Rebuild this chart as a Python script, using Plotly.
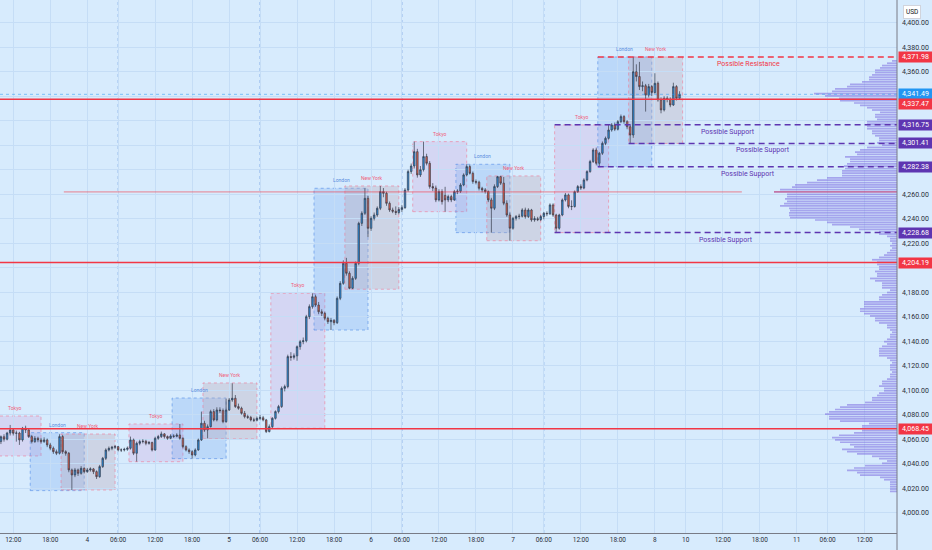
import plotly.graph_objects as go

# 30-minute bars; index 0 is the 12:00 bar of the 3rd
bar_idx = list(range(-4, 217))

opens = [
    4058, 4062, 4060, 4065, 4067.5, 4064.8, 4065, 4059.4, 4068.9, 4067.5,
    4062.1, 4058, 4060.7, 4059.4, 4058, 4059.4, 4055.3, 4052.6, 4049.8, 4048.5,
    4062.1, 4049.8, 4048.5, 4034.9, 4030.8, 4034.9, 4032.1, 4036.2, 4033.5, 4034.9,
    4035.7, 4033.5, 4029.4, 4037.6, 4044.4, 4051.2, 4052.5, 4053.4, 4053.9, 4051.2,
    4051.2, 4051.7, 4052.6, 4059.4, 4048.5, 4056.6, 4058, 4058.3, 4056.6, 4057.2,
    4051.2, 4060.7, 4062.1, 4064.3, 4062.1, 4060.7, 4062.6, 4062.3, 4063.4, 4060.7,
    4053.9, 4051.2, 4049.8, 4047.1, 4051.2, 4059.4, 4073, 4067.5, 4070.2, 4082.5,
    4075.7, 4083.8, 4083.3, 4074.3, 4083.8, 4092, 4093.4, 4086.6, 4085.2, 4081.1,
    4078.4, 4077.8, 4075.7, 4075.5, 4077, 4077.5, 4075.7, 4066.2, 4070.2, 4077,
    4082.5, 4086.6, 4101.5, 4102.9, 4127.4, 4126.8, 4128, 4135.5, 4139.6, 4140.3,
    4160, 4168.2, 4176.3, 4169.5, 4164, 4162.7, 4158.7, 4155.9, 4157, 4155.1,
    4175, 4187.2, 4203.6, 4195.4, 4183.2, 4191.3, 4203.6, 4236.2, 4244.4, 4256.6,
    4232.1, 4240.3, 4243, 4248.5, 4262.1, 4260.7, 4252.5, 4247.1, 4246, 4245,
    4247.5, 4249, 4263.4, 4278.4, 4283, 4294.7, 4275.7, 4280, 4290.7, 4285.2,
    4266.2, 4265, 4255.3, 4262.1, 4259, 4255.3, 4258, 4255.3, 4262.1, 4262.4,
    4267.5, 4275.7, 4282.5, 4277, 4270.3, 4269.8, 4264.8, 4263.5, 4262.1, 4255.3,
    4248.5, 4266.2, 4274.3, 4269, 4252.6, 4243, 4232.2, 4240.3, 4241.7, 4242,
    4247.1, 4241.7, 4247.1, 4239, 4240, 4239.2, 4241.7, 4244.4, 4244, 4251.2,
    4243, 4232.2, 4243, 4255.3, 4259.4, 4250, 4249.9, 4262, 4266.2, 4265,
    4271.6, 4278.4, 4286.6, 4296.1, 4285.2, 4293.4, 4301.5, 4305.6, 4312.4, 4316.5,
    4313, 4319.2, 4323.3, 4319.2, 4315, 4308.3, 4360, 4356, 4347.8, 4348.5,
    4341, 4347.8, 4343, 4350.5, 4337, 4328.8, 4338.3, 4337.5, 4332.8, 4347.8,
    4338.3]

highs = [
    4063, 4064, 4066, 4071.6, 4069, 4067, 4066, 4070, 4071, 4068.5,
    4063.5, 4062.5, 4062, 4061, 4061.5, 4060.5, 4057, 4054, 4051.5, 4064,
    4063.5, 4051, 4049.5, 4036, 4036.5, 4036, 4038, 4037, 4036.5, 4037,
    4036.5, 4034.5, 4039, 4045.5, 4052.5, 4054, 4054.5, 4055.3, 4054.5, 4052.5,
    4053, 4054, 4062.1, 4060.5, 4058, 4059.5, 4060, 4059.5, 4058.5, 4058,
    4062, 4063.5, 4066.2, 4065, 4063, 4064, 4064, 4064.8, 4072.4, 4061.5,
    4055, 4052.5, 4051, 4052.5, 4060.5, 4082.5, 4075, 4072, 4084, 4084.5,
    4086, 4086, 4085, 4093, 4093.6, 4105.6, 4096, 4089, 4086.5, 4083,
    4080, 4079, 4077.5, 4078.5, 4079.8, 4079, 4076.5, 4072, 4078, 4083.5,
    4088, 4103, 4104.5, 4129, 4131, 4130, 4136.5, 4141, 4143, 4161.5,
    4170, 4179.1, 4178, 4172, 4166, 4164, 4160, 4159, 4158, 4176.5,
    4189, 4206, 4208, 4197, 4193, 4205, 4237.5, 4246, 4264.8, 4258.5,
    4242, 4245, 4250, 4266.7, 4265, 4262, 4254, 4249, 4250, 4249.5,
    4251, 4265, 4280, 4285, 4302.9, 4297, 4283, 4302.9, 4293, 4287,
    4269, 4267, 4264, 4264, 4266, 4259.5, 4259.5, 4263.5, 4264, 4269,
    4277, 4284.4, 4284, 4278.5, 4272, 4271, 4266, 4265, 4263, 4257,
    4268, 4274.9, 4275, 4274, 4255, 4245, 4241.5, 4243, 4244, 4248.5,
    4249, 4248.5, 4248, 4242, 4241.5, 4243, 4245.5, 4246, 4252.5, 4252.5,
    4244, 4244, 4256.5, 4261, 4260.5, 4255, 4263, 4267.5, 4268, 4273,
    4279.5, 4288, 4297.5, 4298, 4294.5, 4303, 4307, 4316.5, 4318, 4318.5,
    4320.5, 4325, 4324.5, 4320.5, 4316.5, 4371.98, 4366, 4368, 4352, 4350,
    4350, 4349, 4358.7, 4352, 4339, 4340, 4340, 4339, 4351, 4349,
    4344]

lows = [
    4056, 4058, 4059, 4063, 4063, 4058, 4055.3, 4058, 4065, 4061,
    4056.5, 4057, 4057.5, 4056.5, 4057, 4053.5, 4051, 4048, 4047, 4047.5,
    4048, 4046.5, 4033, 4018.5, 4029, 4030, 4031, 4032, 4032.5, 4033.5,
    4031.5, 4027.5, 4028.5, 4036.5, 4043, 4050, 4051, 4052, 4050, 4049.5,
    4050, 4050.5, 4051.5, 4047, 4041.7, 4055, 4056.5, 4055, 4055.5, 4050,
    4050.5, 4059.5, 4061, 4060.5, 4059.5, 4060, 4061, 4061.5, 4059.5, 4052.5,
    4050, 4048, 4044.1, 4046, 4050.5, 4058.5, 4066, 4060.7, 4069.5, 4074.5,
    4074.5, 4081.5, 4073, 4073.5, 4083, 4090.5, 4085.5, 4084, 4080, 4077,
    4076.5, 4074.5, 4074, 4074.5, 4075.5, 4074.5, 4065, 4065.5, 4068.9, 4076,
    4081, 4085.5, 4099, 4101.5, 4124, 4125, 4124, 4133, 4137.5, 4139,
    4158, 4166.5, 4168, 4162, 4160.5, 4157, 4154, 4149.1, 4153, 4154,
    4173.5, 4186, 4193.5, 4182.4, 4182.5, 4190, 4202, 4234, 4243, 4225,
    4230, 4238.5, 4241.5, 4247, 4257.5, 4250.5, 4245.5, 4244.5, 4243, 4243.5,
    4245.5, 4248, 4262, 4276.5, 4281, 4273.5, 4274, 4278.5, 4283.5, 4264.5,
    4262.5, 4253.5, 4254, 4251.5, 4245.7, 4253.5, 4253.5, 4254.5, 4260, 4261,
    4266.5, 4274.5, 4276, 4268.5, 4268, 4263, 4261.5, 4260.5, 4253.5, 4228.6,
    4247, 4265, 4267.5, 4251, 4241.5, 4222, 4231, 4238.5, 4239.5, 4241,
    4240, 4240.5, 4237.5, 4237.5, 4238, 4238, 4239.5, 4242, 4243, 4241.5,
    4228.7, 4231, 4242, 4254, 4248.5, 4247, 4249, 4261, 4263.5, 4264,
    4270.5, 4277.5, 4285.5, 4283.5, 4282.4, 4292, 4300, 4304.5, 4311, 4311.5,
    4312, 4318, 4317.5, 4313, 4301.4, 4306, 4352, 4345, 4344, 4327.4,
    4339, 4340, 4342, 4335.5, 4326, 4327.5, 4335, 4331, 4332, 4336.5,
    4337]

closes = [
    4062, 4060, 4065, 4067.5, 4064.8, 4065, 4059.4, 4068.9, 4067.5, 4062.1,
    4058, 4060.7, 4059.4, 4058, 4059.4, 4055.3, 4052.6, 4049.8, 4048.5, 4062.1,
    4049.8, 4048.5, 4034.9, 4030.8, 4034.9, 4032.1, 4036.2, 4033.5, 4034.9, 4035.7,
    4033.5, 4029.4, 4037.6, 4044.4, 4051.2, 4052.5, 4053.4, 4053.9, 4051.2, 4051.2,
    4051.7, 4052.6, 4059.4, 4048.5, 4056.6, 4058, 4058.3, 4056.6, 4057.2, 4051.2,
    4060.7, 4062.1, 4064.3, 4062.1, 4060.7, 4062.6, 4062.3, 4063.4, 4060.7, 4053.9,
    4051.2, 4049.8, 4047.1, 4051.2, 4059.4, 4073, 4067.5, 4070.2, 4082.5, 4075.7,
    4083.8, 4083.3, 4074.3, 4083.8, 4092, 4093.4, 4086.6, 4085.2, 4081.1, 4078.4,
    4077.8, 4075.7, 4075.5, 4077, 4077.5, 4075.7, 4066.2, 4070.2, 4077, 4082.5,
    4086.6, 4101.5, 4102.9, 4127.4, 4126.8, 4128, 4135.5, 4139.6, 4140.3, 4160,
    4168.2, 4176.3, 4169.5, 4164, 4162.7, 4158.7, 4155.9, 4157, 4155.1, 4175,
    4187.2, 4203.6, 4195.4, 4183.2, 4191.3, 4203.6, 4236.2, 4244.4, 4256.6, 4232.1,
    4240.3, 4243, 4248.5, 4262.1, 4260.7, 4252.5, 4247.1, 4246, 4245, 4247.5,
    4249, 4263.4, 4278.4, 4283, 4294.7, 4275.7, 4280, 4290.7, 4285.2, 4266.2,
    4265, 4255.3, 4262.1, 4253.9, 4255.3, 4258, 4255.3, 4262.1, 4262.4, 4267.5,
    4275.7, 4282.5, 4277, 4270.3, 4269.8, 4264.8, 4263.5, 4262.1, 4255.3, 4248.5,
    4266.2, 4274.3, 4269, 4252.6, 4243, 4232.2, 4240.3, 4241.7, 4242, 4247.1,
    4241.7, 4247.1, 4239, 4240, 4239.2, 4241.7, 4244.4, 4244, 4251.2, 4243,
    4232.2, 4243, 4255.3, 4259.4, 4250, 4249.9, 4262, 4266.2, 4265, 4271.6,
    4278.4, 4286.6, 4296.1, 4285.2, 4293.4, 4301.5, 4305.6, 4312.4, 4316.5, 4313,
    4319.2, 4323.3, 4319.2, 4315, 4308.3, 4360, 4356, 4347.8, 4348.5, 4341,
    4347.8, 4343, 4350.5, 4337, 4328.8, 4338.3, 4337.5, 4332.8, 4347.8, 4338.3,
    4341.49]

# time axis labels (bar index -> label)
tick_pos = [0, 12, 24, 34, 46, 58, 70, 80, 92, 104, 116, 126, 138, 150, 162,
            172, 184, 196, 208, 218, 230, 242, 254, 264, 276]
tick_text = ["12:00", "18:00", "4", "06:00", "12:00", "18:00", "5", "06:00",
             "12:00", "18:00", "6", "06:00", "12:00", "18:00", "7", "06:00",
             "12:00", "18:00", "8", "10", "12:00", "18:00", "11", "06:00", "12:00"]
day_breaks = [34, 80, 126, 172]

price_ticks = list(range(4000, 4401, 20))
# labels the scale hides behind the coloured price tags
hidden_price_ticks = [4200, 4280, 4300, 4320, 4340]

# session boxes
session_names = ["Tokyo", "London", "New York"] * 5
session_start = [-8.5, 5.5, 15.5, 37.5, 51.5, 61.5, 83.5, 97.5, 107.5,
                 129.5, 143.5, 153.5, 175.5, 189.5, 199.5]
session_end = [9, 23, 33, 55, 69, 79, 101, 115, 125, 147, 161, 171, 193, 207, 217]
session_high = [4078.9, 4065.3, 4064.2, 4072.4, 4093.6, 4105.9, 4179.1, 4264.8,
                4266.7, 4302.9, 4284.4, 4274.9, 4316.5, 4371.98, 4371.98]
session_low = [4046.3, 4018.0, 4018.5, 4041.6, 4044.1, 4060.2, 4068.9, 4149.1,
               4182.4, 4245.7, 4228.6, 4222.0, 4228.6, 4282.4, 4301.4]

# drawn levels
red_levels = [4337.47, 4204.19, 4068.45]
resistance_level = 4371.98
resistance_from = 189.5
support_levels = [4316.75, 4301.41, 4282.38, 4228.68]
support_from = [175.5, 199.5, 189.5, 175.5]
last_price = 4341.49

# visible range volume profile, rows from the top price downwards
profile_top = 4368.8
profile_step = 1.91
profile_widths = [
    5, 10, 15, 17, 22, 22, 25, 28, 28, 35, 47, 50, 62, 65, 83, 72, 58, 57, 43, 37,
    30, 25, 17, 22, 22, 20, 30, 30, 30, 30, 25, 25, 22, 18, 18, 20, 15, 30, 37, 42,
    40, 52, 47, 47, 50, 53, 52, 55, 55, 55, 70, 80, 90, 102, 105, 117, 123, 110, 110, 112,
    110, 113, 117, 108, 107, 108, 108, 107, 82, 70, 65, 47, 38, 18, 18, 10, 7, 7, 5, 7,
    5, 7, 10, 13, 18, 25, 20, 20, 18, 18, 22, 20, 20,
    27, 22, 15, 15, 15, 7, 10, 15, 18, 18, 33, 33, 33, 37, 37, 33, 27, 22, 22, 18,
    10, 10, 7, 5, 7, 7, 10, 13, 10, 15, 18, 18, 18, 18, 10, 7, 5, 7, 7, 7,
    5, 7, 7, 10, 15, 15, 18, 13, 13, 18, 20, 25, 25, 32, 50, 57, 62, 68, 72, 68,
    68, 57, 28, 35, 35, 35, 43, 58, 65, 62, 57, 47, 43, 55, 50, 40, 25, 18, 10, 15,
    32, 43, 50, 40, 37, 17, 13, 7, 7, 7, 7, 7]
poc_from, poc_to = 16.4, 236.2

# right scale labels
label_prices = [4371.98, 4341.49, 4337.47, 4316.75, 4301.41, 4282.38, 4228.68,
                4204.19, 4068.45]

RED = "#f23645"
PURPLE = "#5e35b1"
BLUE = "#2196f3"
BG = "#d7ebfd"
GRID = "#c5ddf6"
FONT = "Roboto"

label_colors = [RED, BLUE, RED, PURPLE, PURPLE, PURPLE, PURPLE, RED, RED]
label_shift = [0, 0, -5, 0, 0, 0, 0, 0, 0]

x_lo, x_hi = -4.3, 286.5
y_lo, y_hi = 3983.4, 4418.5

fig = go.Figure()

# volume profile on an overlaid axis measured from the right edge
profile_prices = [profile_top - k * profile_step for k in range(len(profile_widths))]
poc_row = profile_widths.index(max(profile_widths))
poc_price = profile_prices[poc_row]
fig.add_trace(go.Bar(
    x=profile_widths, y=profile_prices, orientation="h", xaxis="x2",
    width=1.4, marker=dict(color="rgba(115,95,222,0.5)", line_width=0),
    hoverinfo="skip"))

fig.add_trace(go.Candlestick(
    x=bar_idx, open=opens, high=highs, low=lows, close=closes,
    whiskerwidth=0,
    increasing=dict(fillcolor="#2a8ee0", line=dict(color="#363c4a", width=0.7)),
    decreasing=dict(fillcolor="#e6604b", line=dict(color="#363c4a", width=0.7))))

shapes = []
for v in day_breaks:
    shapes.append(dict(type="line", xref="x", yref="paper", x0=v, x1=v, y0=0, y1=1,
                       line=dict(color="rgba(90,140,225,0.65)", width=1, dash="3px,3px"),
                       layer="below"))

styles = {
    "Tokyo": ("rgba(205,150,215,0.25)", "rgba(240,120,150,0.75)", "#f0607a"),
    "London": ("rgba(90,150,235,0.22)", "rgba(80,140,230,0.75)", "#5a8ee0"),
    "New York": ("rgba(185,165,180,0.32)", "rgba(240,120,150,0.75)", "#f0607a"),
}
annotations = []
for name, s, e, hi, lo in zip(session_names, session_start, session_end,
                              session_high, session_low):
    fill, edge, txt = styles[name]
    shapes.append(dict(type="rect", xref="x", yref="y", x0=s, x1=e, y0=lo, y1=hi,
                       fillcolor=fill, line=dict(color=edge, width=0.8, dash="dot"),
                       layer="below"))
    annotations.append(dict(x=(s + e) / 2, y=hi, xref="x", yref="y", text=name,
                            showarrow=False, yanchor="bottom", yshift=3,
                            font=dict(family=FONT, size=5, color=txt)))

# point of control: line across the chart and over its own profile row
shapes.append(dict(type="line", xref="x", yref="y", x0=poc_from, x1=poc_to,
                   y0=poc_price, y1=poc_price,
                   line=dict(color="rgba(242,54,69,0.6)", width=1), layer="above"))
shapes.append(dict(type="line", xref="x2", yref="y", x0=max(profile_widths), x1=0,
                   y0=poc_price, y1=poc_price,
                   line=dict(color="rgba(242,54,69,0.7)", width=1), layer="above"))

# last price
shapes.append(dict(type="line", xref="paper", yref="y", x0=0, x1=1,
                   y0=last_price, y1=last_price,
                   line=dict(color="rgba(33,150,243,0.5)", width=1, dash="dot"),
                   layer="above"))

for lv in red_levels:
    shapes.append(dict(type="line", xref="paper", yref="y", x0=0, x1=1, y0=lv, y1=lv,
                       line=dict(color=RED, width=1.5), layer="above"))

shapes.append(dict(type="line", xref="x", yref="y", x0=resistance_from, x1=x_hi,
                   y0=resistance_level, y1=resistance_level,
                   line=dict(color=RED, width=1.3, dash="6px,4px"), layer="above"))
for lv, start in zip(support_levels, support_from):
    shapes.append(dict(type="line", xref="x", yref="y", x0=start, x1=x_hi, y0=lv, y1=lv,
                       line=dict(color=PURPLE, width=1.5, dash="6px,4px"), layer="above"))

# axis line continuing into the time scale strip
shapes.append(dict(type="line", xref="paper", yref="paper", x0=1, x1=1,
                   y0=-17 / 533, y1=1, line=dict(color="#787b86", width=1)))

annotations.append(dict(x=238.2, y=resistance_level, xref="x", yref="y",
                        text="Possible Resistance", showarrow=False,
                        yanchor="top", yshift=-1,
                        font=dict(family=FONT, size=7, color=RED)))
for lv, lx in zip(support_levels, [231.7, 243, 238.2, 231]):
    annotations.append(dict(x=lx, y=lv, xref="x", yref="y", text="Possible Support",
                            showarrow=False, yanchor="top", yshift=-1,
                            font=dict(family=FONT, size=7, color=PURPLE)))

for p, c, sh in zip(label_prices, label_colors, label_shift):
    annotations.append(dict(x=1, y=p, xref="paper", yref="y", xanchor="left",
                            xshift=1, yshift=sh, text=f"{p:,.2f}", showarrow=False,
                            bgcolor=c, width=33, height=10, borderpad=0,
                            font=dict(family=FONT, size=7, color="white")))

annotations.append(dict(x=1, y=1, xref="paper", yref="paper", xanchor="left",
                        yanchor="top", xshift=6, yshift=-5, text="USD",
                        showarrow=False, bgcolor="white", bordercolor="#d1d4dc",
                        borderwidth=1, borderpad=2,
                        font=dict(family=FONT, size=6.5, color="#131722")))

price_text = ["" if t in hidden_price_ticks else f"{t:,.2f}" for t in price_ticks]

fig.update_layout(
    width=932, height=550,
    margin=dict(l=0, r=35, t=0, b=17),
    paper_bgcolor=BG, plot_bgcolor=BG,
    showlegend=False, hovermode=False,
    shapes=shapes, annotations=annotations,
    xaxis=dict(range=[x_lo, x_hi], tickvals=tick_pos, ticktext=tick_text,
               showgrid=True, gridcolor=GRID, gridwidth=1, zeroline=False,
               showline=True, linecolor="#787b86", linewidth=1, ticks="",
               rangeslider=dict(visible=False),
               tickfont=dict(family=FONT, size=6.5, color="#2a2e39")),
    xaxis2=dict(overlaying="x", anchor="y", range=[897, 0], visible=False,
                showgrid=False, zeroline=False),
    yaxis=dict(range=[y_lo, y_hi], side="right", tickvals=price_ticks,
               ticktext=price_text, showgrid=True, gridcolor=GRID, gridwidth=1,
               zeroline=False, showline=False, ticks="", ticklabelstandoff=4,
               tickfont=dict(family=FONT, size=7, color="#2a2e39")),
)

# the page body's default margin would push the figure off the window
fig.write_html("out.html", config={"displayModeBar": False},
               post_script="document.body.style.margin='0';")
